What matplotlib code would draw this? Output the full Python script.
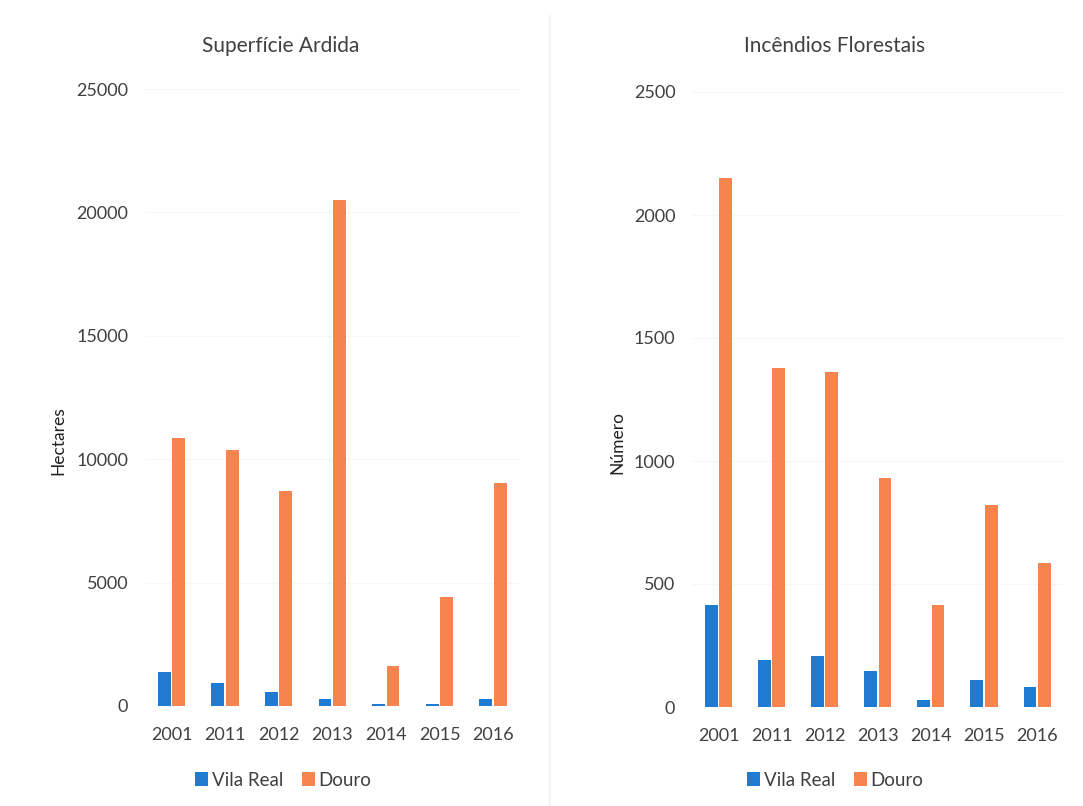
import matplotlib
matplotlib.use("Agg")
import matplotlib.pyplot as plt
import numpy as np

plt.rcParams["font.family"] = ["Lato", "DejaVu Sans"]

anos = ["2001", "2011", "2012", "2013", "2014", "2015", "2016"]

# Superfície ardida (hectares)
area_vila_real = [1380, 930, 570, 300, 80, 80, 300]
area_douro = [10850, 10360, 8700, 20490, 1620, 4410, 9030]

# Número de incêndios florestais
n_vila_real = [415, 190, 207, 146, 30, 110, 80]
n_douro = [2150, 1380, 1360, 930, 415, 820, 585]

AZUL = "#1f7bd2"
LARANJA = "#f5844f"
TEXTO = "#404040"

fig = plt.figure(figsize=(10.83, 8.06), dpi=100)


def painel(rect, titulo, ylabel, vr, dr, ymax, passo, tit_x, leg_x, ylab_x):
    ax = fig.add_axes(rect)
    x = np.arange(len(anos))
    w = 0.24
    ax.bar(x - 0.14, vr, width=w, color=AZUL, label="Vila Real", zorder=3)
    ax.bar(x + 0.13, dr, width=w, color=LARANJA, label="Douro", zorder=3)
    ax.set_xlim(-0.5, len(anos) - 0.5)
    ax.set_ylim(0, ymax)
    ax.set_yticks(np.arange(0, ymax + 1, passo))
    ax.set_xticks(x)
    ax.set_xticklabels(anos)
    ax.tick_params(axis="both", length=0, labelsize=13, colors=TEXTO)
    ax.tick_params(axis="y", pad=12)
    ax.tick_params(axis="x", pad=15)
    for s in ax.spines.values():
        s.set_visible(False)
    ax.yaxis.grid(True, color="#f7f7f7", linewidth=0.8, zorder=0)
    ax.set_axisbelow(True)
    fig.text(tit_x, 1 - 46 / 806, titulo, ha="center", va="center",
             fontsize=15, color=TEXTO)
    fig.text(ylab_x, rect[1] + rect[3] * 0.43, ylabel, rotation=90,
             ha="center", va="center", fontsize=12.5, color="#222222")
    leg = fig.legend(*ax.get_legend_handles_labels(), loc="center",
                     bbox_to_anchor=(leg_x, 1 - 780 / 806), ncol=2,
                     frameon=False, fontsize=13.5, handlelength=0.7,
                     handleheight=0.7, handletextpad=0.2, columnspacing=1.0)
    for t in leg.get_texts():
        t.set_color(TEXTO)
    return ax


painel([145 / 1083, 1 - 706 / 806, 375 / 1083, (706 - 89) / 806],
       "Superfície Ardida", "Hectares", area_vila_real, area_douro,
       25000, 5000, 281 / 1083, 283 / 1083, 58 / 1083)

painel([692 / 1083, 1 - 707 / 806, 372 / 1083, (707 - 92) / 806],
       "Incêndios Florestais", "Número", n_vila_real, n_douro,
       2500, 500, 835 / 1083, 835 / 1083, 617 / 1083)

# Linha separadora entre os dois gráficos
fig.add_artist(plt.Line2D([550 / 1083, 550 / 1083], [0.0, 0.98],
                          transform=fig.transFigure, color="#f4f4f4",
                          linewidth=1.5))

fig.savefig("out.png", dpi=100, facecolor="white")
